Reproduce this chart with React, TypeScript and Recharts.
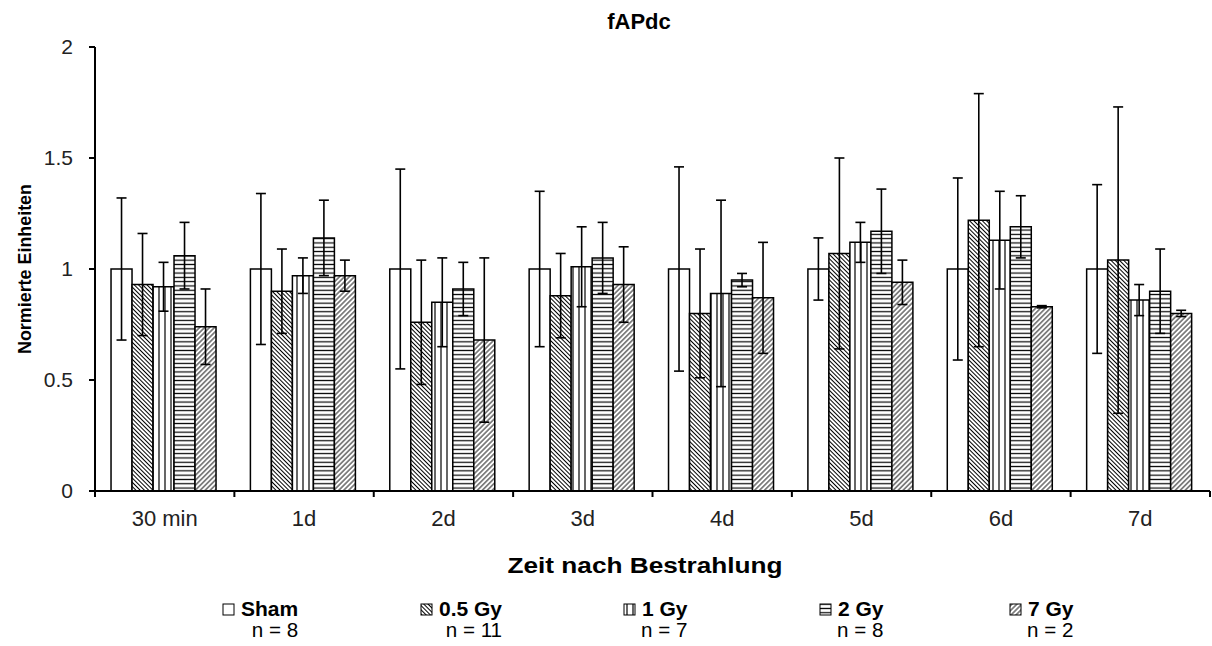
import React from 'react';
import { BarChart, Bar, XAxis, YAxis, ErrorBar } from 'recharts';

const categories = ['30 min', '1d', '2d', '3d', '4d', '5d', '6d', '7d'];
const shamValues = [1, 1, 1, 1, 1, 1, 1, 1];
const shamErrors = [0.32, 0.34, 0.45, 0.35, 0.46, 0.14, 0.41, 0.38];
const gy05Values = [0.93, 0.9, 0.76, 0.88, 0.8, 1.07, 1.22, 1.04];
const gy05Errors = [0.23, 0.19, 0.28, 0.19, 0.29, 0.43, 0.57, 0.69];
const gy1Values = [0.92, 0.97, 0.85, 1.01, 0.89, 1.12, 1.13, 0.86];
const gy1Errors = [0.11, 0.08, 0.2, 0.18, 0.42, 0.09, 0.22, 0.07];
const gy2Values = [1.06, 1.14, 0.91, 1.05, 0.95, 1.17, 1.19, 0.9];
const gy2Errors = [0.15, 0.17, 0.12, 0.16, 0.03, 0.19, 0.14, 0.19];
const gy7Values = [0.74, 0.97, 0.68, 0.93, 0.87, 0.94, 0.83, 0.8];
const gy7Errors = [0.17, 0.07, 0.37, 0.17, 0.25, 0.1, 0.005, 0.014];
const yTicks = [0, 0.5, 1, 1.5, 2];
const seriesNames = ['Sham', '0.5 Gy', '1 Gy', '2 Gy', '7 Gy'];
const seriesN = [8, 11, 7, 8, 2];

const title = 'fAPdc';
const xTitle = 'Zeit nach Bestrahlung';
const yTitle = 'Normierte Einheiten';

const data = categories.map((c, i) => ({
  cat: c,
  sham: shamValues[i],
  shamErr: shamErrors[i],
  gy05: gy05Values[i],
  gy05Err: gy05Errors[i],
  gy1: gy1Values[i],
  gy1Err: gy1Errors[i],
  gy2: gy2Values[i],
  gy2Err: gy2Errors[i],
  gy7: gy7Values[i],
  gy7Err: gy7Errors[i],
}));

const seriesKeys = ['sham', 'gy05', 'gy1', 'gy2', 'gy7'];
const FONT = '"Liberation Sans", Arial, sans-serif';

const Patterns = ({ prefix }: { prefix: string }) => (
  <defs>
    <pattern id={`${prefix}-sham`} patternUnits="userSpaceOnUse" width="4" height="4">
      <rect width="4" height="4" fill="#fff" />
    </pattern>
    <pattern id={`${prefix}-gy05`} patternUnits="userSpaceOnUse" width="3" height="3" patternTransform="rotate(-45)">
      <rect width="3" height="3" fill="#fff" />
      <line x1="1.5" y1="-1" x2="1.5" y2="4" stroke="#000" strokeWidth="1" />
    </pattern>
    <pattern id={`${prefix}-gy1`} patternUnits="userSpaceOnUse" width="6" height="6">
      <rect width="6" height="6" fill="#fff" />
      <line x1="3" y1="-1" x2="3" y2="7" stroke="#000" strokeWidth="1.2" />
    </pattern>
    <pattern id={`${prefix}-gy2`} patternUnits="userSpaceOnUse" width="4.3" height="4.3">
      <rect width="4.3" height="4.3" fill="#fff" />
      <line x1="-1" y1="2.15" x2="6" y2="2.15" stroke="#000" strokeWidth="1.2" />
    </pattern>
    <pattern id={`${prefix}-gy7`} patternUnits="userSpaceOnUse" width="3.5" height="3.5" patternTransform="rotate(45)">
      <rect width="3.5" height="3.5" fill="#fff" />
      <line x1="1.75" y1="-1" x2="1.75" y2="5" stroke="#000" strokeWidth="0.9" />
    </pattern>
  </defs>
);

const CatTick = (props: any) => {
  const { x, y, payload, width, visibleTicksCount, index } = props;
  const count = visibleTicksCount || categories.length;
  const half = Number(width) / count / 2;
  return (
    <g>
      <line x1={x - half} y1={y} x2={x - half} y2={y + 6} stroke="#000" strokeWidth={2} />
      {index === count - 1 && (
        <line x1={x + half} y1={y} x2={x + half} y2={y + 6} stroke="#000" strokeWidth={2} />
      )}
      <text x={x} y={y + 35} textAnchor="middle" fontSize={22} fontFamily={FONT} fill="#222">
        {payload.value}
      </text>
    </g>
  );
};

const legendX = [223, 421, 624, 820, 1010];
const STRETCH = 1.05;

function measure(text: string, font: string): number {
  try {
    const c = document.createElement('canvas').getContext('2d');
    if (c) {
      c.font = font;
      return c.measureText(text).width;
    }
  } catch (e) {}
  return text.length * 10;
}

export default function App() {
  return (
    <div style={{ position: 'absolute', left: 0, top: 0, width: 1212, height: 646, background: '#fff' }}>
      <BarChart
        width={1212}
        height={646}
        data={data}
        margin={{ top: 47, right: 2, bottom: 95, left: 0 }}
        barCategoryGap="11.5%"
        barGap={0}
      >
        <Patterns prefix="c" />
        <XAxis
          dataKey="cat"
          height={60}
          axisLine={{ stroke: '#000', strokeWidth: 2 }}
          tickLine={false}
          tickSize={0}
          tickMargin={0}
          interval={0}
          tick={(p: any) => <CatTick {...p} />}
        />
        <YAxis
          domain={[0, 2]}
          ticks={yTicks}
          width={95}
          axisLine={{ stroke: '#000', strokeWidth: 2 }}
          tickLine={{ stroke: '#000', strokeWidth: 2 }}
          tickSize={6}
          tickMargin={16}
          tick={{ fill: '#222', fontSize: 21, fontFamily: FONT }}
          tickFormatter={(v: number) => String(v)}
        />
        {seriesKeys.map((k, i) => (
          <Bar
            key={k}
            dataKey={k}
            name={seriesNames[i]}
            fill={`url(#c-${k})`}
            stroke="#000"
            strokeWidth={1.5}
            isAnimationActive={false}
          >
            <ErrorBar dataKey={`${k}Err`} width={5} stroke="#000" strokeWidth={1.6} />
          </Bar>
        ))}
      </BarChart>
      <svg
        width={1212}
        height={646}
        style={{ position: 'absolute', left: 0, top: 0, pointerEvents: 'none' }}
      >
        <Patterns prefix="l" />
        <text x={639} y={29} textAnchor="middle" fontSize={22} fontWeight="bold" fontFamily={FONT} fill="#000">
          {title}
        </text>
        <text
          x={645}
          y={573}
          textAnchor="middle"
          fontSize={22}
          fontWeight="bold"
          fontFamily={FONT}
          fill="#000"
          textLength={275}
          lengthAdjust="spacingAndGlyphs"
        >
          {xTitle}
        </text>
        <text
          transform="rotate(-90)"
          x={-269}
          y={31}
          textAnchor="middle"
          fontSize={19}
          fontWeight="bold"
          fontFamily={FONT}
          fill="#000"
          textLength={170}
          lengthAdjust="spacingAndGlyphs"
        >
          {yTitle}
        </text>
        {seriesNames.map((name, i) => {
          const ix = legendX[i];
          const labelW = measure(name, `bold 20px ${FONT}`) * STRETCH;
          const labelEnd = ix + 18 + labelW;
          const nText = `n = ${seriesN[i]}`;
          const nW = measure(nText, `20px ${FONT}`) * 1.03;
          return (
            <g key={name}>
              <rect x={ix} y={604} width={11} height={11} fill={`url(#l-${seriesKeys[i]})`} stroke="#000" strokeWidth={1} />
              <text
                x={ix + 18}
                y={616}
                fontSize={20}
                fontWeight="bold"
                fontFamily={FONT}
                fill="#000"
                textLength={labelW}
                lengthAdjust="spacingAndGlyphs"
              >
                {name}
              </text>
              <text
                x={labelEnd - nW}
                y={637}
                fontSize={20}
                fontFamily={FONT}
                fill="#000"
                textLength={nW}
                lengthAdjust="spacingAndGlyphs"
              >
                {nText}
              </text>
            </g>
          );
        })}
      </svg>
    </div>
  );
}
